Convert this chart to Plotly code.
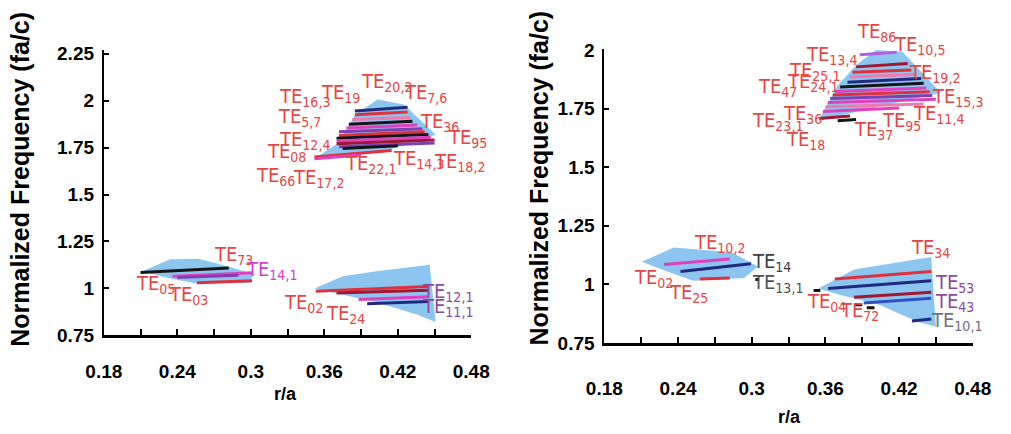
import plotly.graph_objects as go

# ---------------- axis ticks ----------------
X_TICK_VALUES = [0.18, 0.21, 0.24, 0.27, 0.30, 0.33, 0.36, 0.39, 0.42, 0.45, 0.48]
X_TICK_TEXT = ["0.18", "", "0.24", "", "0.3", "", "0.36", "", "0.42", "", "0.48"]
Y_TICK_VALUES_L = [0.75, 1.0, 1.25, 1.5, 1.75, 2.0, 2.25]
Y_TICK_TEXT_L = ["0.75", "1", "1.25", "1.5", "1.75", "2", "2.25"]
Y_TICK_VALUES_R = [0.75, 1.0, 1.25, 1.5, 1.75, 2.0]
Y_TICK_TEXT_R = ["0.75", "1", "1.25", "1.5", "1.75", "2"]

# ---------------- left panel: shaded bands ----------------
L_BAND1_X = [0.211, 0.234, 0.257, 0.281, 0.302, 0.299, 0.257, 0.236]
L_BAND1_Y = [1.090, 1.155, 1.157, 1.118, 1.076, 1.030, 1.025, 1.050]
L_BAND2_X = [0.352, 0.375, 0.401, 0.446, 0.451, 0.435, 0.401, 0.375]
L_BAND2_Y = [0.999, 1.065, 1.090, 1.126, 0.821, 0.862, 0.928, 0.964]
L_BAND3_X = [0.352, 0.372, 0.3855, 0.4036, 0.425, 0.451, 0.4146]
L_BAND3_Y = [1.690, 1.777, 1.929, 2.006, 1.980, 1.818, 1.741]

# left panel: mode lines (start/end r/a and frequency)
L_LINE_X0 = [0.210, 0.236, 0.240, 0.256, 0.353, 0.370, 0.388, 0.395,
             0.385, 0.385, 0.383, 0.380, 0.378, 0.372, 0.372, 0.370, 0.370, 0.370, 0.372, 0.375, 0.352, 0.352]
L_LINE_X1 = [0.282, 0.302, 0.290, 0.301, 0.445, 0.445, 0.445, 0.445,
             0.428, 0.428, 0.430, 0.432, 0.436, 0.440, 0.442, 0.445, 0.447, 0.450, 0.450, 0.420, 0.415, 0.390]
L_LINE_Y0 = [1.085, 1.064, 1.058, 1.030, 0.985, 0.975, 0.940, 0.918,
             1.945, 1.925, 1.900, 1.875, 1.855, 1.835, 1.815, 1.800, 1.785, 1.770, 1.755, 1.745, 1.700, 1.690]
L_LINE_Y1 = [1.108, 1.083, 1.070, 1.040, 1.010, 0.990, 0.955, 0.930,
             1.965, 1.940, 1.910, 1.890, 1.870, 1.850, 1.835, 1.820, 1.805, 1.790, 1.775, 1.760, 1.735, 1.710]

# left panel: mode labels
L_LABEL_SUB = ["16,3", "19", "20,2", "7,6", "5,7", "36", "95", "12,4", "08", "14,3", "18,2", "22,1",
               "66", "17,2", "73", "14,1", "05", "03", "02", "24", "12,1", "11,1"]
L_LABEL_X = [0.3437, 0.373, 0.411, 0.443, 0.340, 0.454, 0.477, 0.344, 0.329, 0.437, 0.470, 0.398,
             0.320, 0.3555, 0.2855, 0.317, 0.2225, 0.249, 0.343, 0.377, 0.461, 0.461]
L_LABEL_Y = [2.021, 2.041, 2.097, 2.040, 1.914, 1.889, 1.800, 1.792, 1.726, 1.690, 1.675, 1.660,
             1.599, 1.589, 1.177, 1.100, 1.025, 0.963, 0.923, 0.862, 0.979, 0.903]

# ---------------- right panel: shaded bands ----------------
R_BAND1_X = [0.2106, 0.2365, 0.2837, 0.3049, 0.2939, 0.2523, 0.2311]
R_BAND1_Y = [1.096, 1.157, 1.137, 1.076, 1.027, 1.015, 1.055]
R_BAND2_X = [0.3543, 0.3834, 0.4461, 0.450, 0.4352, 0.4038, 0.3724]
R_BAND2_Y = [0.982, 1.063, 1.116, 0.819, 0.840, 0.913, 0.954]
R_BAND3_X = [0.3543, 0.370, 0.3858, 0.4015, 0.4227, 0.454]
R_BAND3_Y = [1.699, 1.849, 1.939, 2.000, 1.992, 1.817]

R_LINE_X0 = [0.2287, 0.242, 0.2578, 0.303, 0.3677, 0.3622, 0.3834, 0.3912, 0.4305, 0.3504, 0.384, 0.3937,
             0.388, 0.385, 0.382, 0.380, 0.378, 0.372, 0.368, 0.366, 0.364, 0.362, 0.360, 0.358, 0.355, 0.370]
R_LINE_X1 = [0.2821, 0.2994, 0.2821, 0.306, 0.4462, 0.4462, 0.4462, 0.4462, 0.4462, 0.3559, 0.390, 0.400,
             0.418, 0.427, 0.430, 0.434, 0.438, 0.440, 0.442, 0.445, 0.447, 0.450, 0.440, 0.420, 0.380, 0.385]
R_LINE_Y0 = [1.084, 1.055, 1.023, 1.020, 1.023, 0.982, 0.945, 0.920, 0.843, 0.974, 0.913, 0.900,
             1.980, 1.928, 1.905, 1.885, 1.862, 1.842, 1.823, 1.808, 1.793, 1.776, 1.758, 1.738, 1.708, 1.698]
R_LINE_Y1 = [1.108, 1.088, 1.027, 1.020, 1.055, 1.015, 0.966, 0.940, 0.852, 0.974, 0.913, 0.900,
             1.990, 1.942, 1.915, 1.895, 1.878, 1.858, 1.838, 1.822, 1.806, 1.790, 1.770, 1.752, 1.718, 1.703]

R_LABEL_SUB = ["86", "10,5", "13,4", "25,1", "47", "24,1", "19,2", "15,3", "11,4", "95", "37", "36",
               "23,1", "18", "10,2", "14", "13,1", "02", "25", "34", "53", "43", "10,1", "04", "72"]
R_LABEL_X = [0.4014, 0.4367, 0.3653, 0.3511, 0.3213, 0.3496, 0.4485, 0.4674, 0.4525, 0.4219, 0.399, 0.341,
             0.3213, 0.344, 0.2734, 0.316, 0.321, 0.220, 0.2483, 0.4453, 0.465, 0.465, 0.467, 0.3613, 0.388]
R_LABEL_Y = [2.073, 2.020, 1.980, 1.910, 1.840, 1.862, 1.902, 1.800, 1.727, 1.695, 1.658, 1.727,
             1.695, 1.617, 1.177, 1.096, 1.007, 1.027, 0.962, 1.157, 1.007, 0.925, 0.844, 0.925, 0.884]

# ---------------- styles ----------------
BAND_COLOR = "rgba(128,192,238,0.9)"
RED, DRED, MAG, PINK, PUR, NAVY, BLK, BLUE, VIO = ("#e0303c", "#a01830", "#e040c0", "#f07ab0",
                                                    "#8040b0", "#1f2a80", "#151515", "#3050c0", "#b060e0")
L_LINE_COLORS = [BLK, MAG, PUR, RED, RED, DRED, MAG, NAVY,
                 NAVY, RED, PINK, BLK, MAG, PUR, RED, BLK, MAG, DRED, PUR, BLK, RED, MAG]
R_LINE_COLORS = [MAG, NAVY, RED, BLK, RED, NAVY, DRED, BLUE, NAVY, BLK, BLK, BLK,
                 VIO, DRED, RED, PINK, NAVY, BLK, MAG, RED, PUR, MAG, PINK, MAG, DRED, BLK]
LRED = "#e54545"
L_LABEL_COLORS = [LRED] * 15 + ["#d040d0"] + [LRED] * 4 + ["#8a4a9a", "#8a4a9a"]
R_LABEL_COLORS = [LRED] * 15 + ["#404040", "#505050"] + [LRED] * 3 + ["#8a4a9a", "#8a4a9a", "#707080"] + [LRED] * 2

LABEL_FONT = "DejaVu Sans Condensed, Liberation Sans Narrow, Liberation Sans"
AX_FONT = dict(family="Liberation Sans, Arial", size=19, color="black", weight="bold")

fig = go.Figure()


def add_band(xs, ys, xa, ya):
    fig.add_trace(go.Scatter(x=xs + [xs[0]], y=ys + [ys[0]], fill="toself", fillcolor=BAND_COLOR,
                             mode="lines", line=dict(width=0), hoverinfo="skip", showlegend=False,
                             xaxis=xa, yaxis=ya))


def add_lines(x0s, x1s, y0s, y1s, colors, xa, ya):
    for x0, x1, y0, y1, c in zip(x0s, x1s, y0s, y1s, colors):
        fig.add_trace(go.Scatter(x=[x0, x1], y=[y0, y1], mode="lines", line=dict(color=c, width=3),
                                 hoverinfo="skip", showlegend=False, xaxis=xa, yaxis=ya))


for bx, by in [(L_BAND1_X, L_BAND1_Y), (L_BAND2_X, L_BAND2_Y), (L_BAND3_X, L_BAND3_Y)]:
    add_band(bx, by, "x", "y")
for bx, by in [(R_BAND1_X, R_BAND1_Y), (R_BAND2_X, R_BAND2_Y), (R_BAND3_X, R_BAND3_Y)]:
    add_band(bx, by, "x2", "y2")
add_lines(L_LINE_X0, L_LINE_X1, L_LINE_Y0, L_LINE_Y1, L_LINE_COLORS, "x", "y")
add_lines(R_LINE_X0, R_LINE_X1, R_LINE_Y0, R_LINE_Y1, R_LINE_COLORS, "x2", "y2")

W, H = 1011, 434
L_YRANGE = [0.75, 2.27]
R_YRANGE = [0.75, 2.004]
L_YDOM = [92 / H, 391 / H]
R_YDOM = [84 / H, 392 / H]

annotations = []


def add_labels(subs, xs, ys, colors, xref, yref, yrange, ydom):
    px_per_unit = (ydom[1] - ydom[0]) * H / (yrange[1] - yrange[0])
    for s, x, y, c in zip(subs, xs, ys, colors):
        yp = min(y, yrange[1])
        annotations.append(dict(text="TE<sub>%s</sub>" % s, x=x, y=yp, yshift=(y - yp) * px_per_unit,
                                xref=xref, yref=yref, showarrow=False, xanchor="center", yanchor="middle",
                                font=dict(family=LABEL_FONT, size=20, color=c)))


add_labels(L_LABEL_SUB, L_LABEL_X, L_LABEL_Y, L_LABEL_COLORS, "x", "y", L_YRANGE, L_YDOM)
add_labels(R_LABEL_SUB, R_LABEL_X, R_LABEL_Y, R_LABEL_COLORS, "x2", "y2", R_YRANGE, R_YDOM)

TITLE_FONT = dict(family="Liberation Sans, Arial", size=25, color="black", weight="bold")
XT_FONT = dict(family="Liberation Sans, Arial", size=18, color="black", weight="bold")
annotations += [
    dict(text="Normalized Frequency (fa/c)", x=2 / W, y=1 - 178 / H, xref="paper", yref="paper",
         xanchor="center", yanchor="middle", textangle=-90, showarrow=False, font=TITLE_FONT),
    dict(text="Normalized Frequency (fa/c)", x=540 / W, y=1 - 177 / H, xref="paper", yref="paper",
         xanchor="center", yanchor="middle", textangle=-90, showarrow=False, font=TITLE_FONT),
    dict(text="r/a", x=277 / W, y=1 - 404 / H, xref="paper", yref="paper", xanchor="center",
         yanchor="middle", showarrow=False, font=XT_FONT),
    dict(text="r/a", x=800 / W, y=1 - 428 / H, xref="paper", yref="paper", xanchor="center",
         yanchor="middle", showarrow=False, font=XT_FONT),
]

xax = dict(range=[0.18, 0.48], tickvals=X_TICK_VALUES, ticktext=X_TICK_TEXT, showline=True, linewidth=3,
           linecolor="black", ticks="inside", ticklen=6, tickwidth=1.5, tickcolor="black", showgrid=False,
           zeroline=False, tickfont=AX_FONT)
yax = dict(showline=True, linewidth=2, linecolor="black", ticks="inside", ticklen=5, tickwidth=1.5,
           tickcolor="black", showgrid=False, zeroline=False, tickfont=AX_FONT, ticklabelstandoff=4)

fig.update_layout(
    width=W, height=H, margin=dict(l=0, r=0, t=0, b=0),
    paper_bgcolor="white", plot_bgcolor="white", showlegend=False,
    xaxis=dict(xax, domain=[89 / W, 470 / W], anchor="y", ticklabelstandoff=17),
    yaxis=dict(yax, domain=L_YDOM, range=L_YRANGE, tickvals=Y_TICK_VALUES_L, ticktext=Y_TICK_TEXT_L, anchor="x"),
    xaxis2=dict(xax, domain=[608 / W, 990 / W], anchor="y2", ticklabelstandoff=26),
    yaxis2=dict(yax, domain=R_YDOM, range=R_YRANGE, tickvals=Y_TICK_VALUES_R, ticktext=Y_TICK_TEXT_R, anchor="x2"),
    annotations=annotations,
)

fig.write_html("out.html")
